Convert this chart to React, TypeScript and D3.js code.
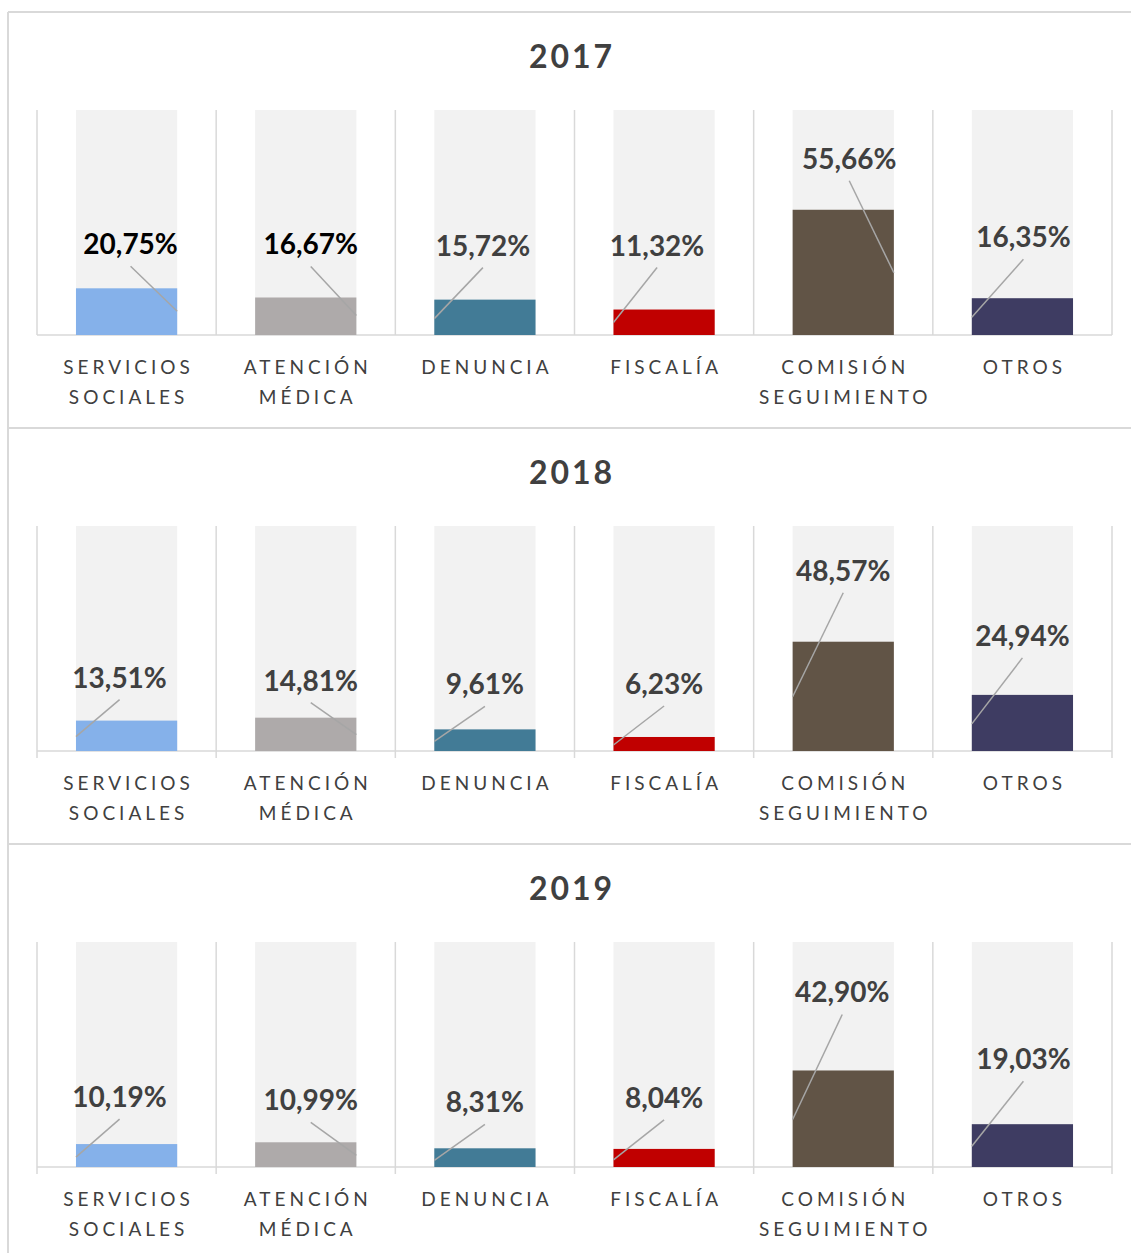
import * as d3 from "d3";

// categories (split on space for the two-line axis labels)
const categories = [
  "SERVICIOS SOCIALES",
  "ATENCIÓN MÉDICA",
  "DENUNCIA",
  "FISCALÍA",
  "COMISIÓN SEGUIMIENTO",
  "OTROS",
];
const years = ["2017", "2018", "2019"];
const values2017 = [20.75, 16.67, 15.72, 11.32, 55.66, 16.35];
const values2018 = [13.51, 14.81, 9.61, 6.23, 48.57, 24.94];
const values2019 = [10.19, 10.99, 8.31, 8.04, 42.9, 19.03];

const barColors = ["#85b1ea", "#aeaaaa", "#427b96", "#c00000", "#615446", "#3e3c62"];

// hand-placed data labels: [dx from bar centre, label baseline dy from bar top, leader side, leader end dy from bar top]
const labelPos2017: [number, number, string, number][] = [
  [4, -34, "R", 23], [5, -43, "R", 18], [-2, -44, "L", 19],
  [-7, -54, "L", 13], [6, -41, "R", 63], [1, -51, "L", 19],
];
const labelPos2018: [number, number, string, number][] = [
  [-7, -33, "L", 16], [5, -27, "R", 17], [0, -35, "L", 12],
  [0, -43, "L", 8], [0, -61, "L", 55], [0, -49, "L", 29],
];
const labelPos2019: [number, number, string, number][] = [
  [-7, -37, "L", 13], [5, -32, "R", 13], [0, -36, "L", 12],
  [0, -41, "L", 11], [-1, -68, "L", 49], [1, -55, "L", 22],
];
const labelColors2017 = ["#000", "#000", "#404040", "#404040", "#404040", "#404040"];

const W = 1131;
const H = 1253;
const panelH = 416;
const panelTop0 = 12;
const gridColor = "#d9d9d9";
const textColor = "#404040";
const font = "Lato, 'Open Sans', sans-serif";

const x = d3.scaleBand<string>().domain(categories).range([37, 1112]);
const barW = x.bandwidth() * 0.565;

const fmt = (v: number) => v.toFixed(2).replace(".", ",") + "%";

function Panel({ idx, year, values, labels, labelColors }: any) {
  const top = panelTop0 + idx * panelH;
  const y = d3.scaleLinear().domain([0, 100]).range([top + 323, top + 98]);
  const base = y(0);
  const tick = idx === 0 ? 0 : 7;
  const bounds = categories.map((c) => x(c)!).concat([x.range()[1]]);
  return (
    <g>
      <text
        x={572}
        y={top + 56}
        textAnchor="middle"
        fontFamily={font}
        fontWeight="bold"
        fontSize={32}
        letterSpacing={3}
        fill={textColor}
      >
        {year}
      </text>
      {categories.map((c) => (
        <rect
          key={"bg" + c}
          x={x(c)! + (x.bandwidth() - barW) / 2}
          y={y(100)}
          width={barW}
          height={base - y(100)}
          fill="#f2f2f2"
        />
      ))}
      {bounds.map((b, i) => (
        <line key={"g" + i} x1={b} x2={b} y1={y(100)} y2={base + tick} stroke={gridColor} strokeWidth={1.5} />
      ))}
      <line x1={x.range()[0]} x2={x.range()[1]} y1={base} y2={base} stroke={gridColor} strokeWidth={1.5} />
      {categories.map((c, i) => {
        const bx = x(c)! + (x.bandwidth() - barW) / 2;
        const by = y(values[i]);
        return (
          <rect key={"b" + c} x={bx} y={by} width={barW} height={base - by} fill={barColors[i]} />
        );
      })}
      {categories.map((c, i) => {
        const [dx, dy, side, endDy] = labels[i];
        const cx = x(c)! + x.bandwidth() / 2;
        const by = y(values[i]);
        const lx = cx + dx;
        const ly = by + dy;
        const ex = side === "L" ? cx - barW / 2 : cx + barW / 2;
        return (
          <g key={"l" + c}>
            <line x1={lx} y1={ly + 12} x2={ex} y2={by + endDy} stroke="#a6a6a6" strokeWidth={1.5} />
            <text
              x={lx}
              y={ly}
              textAnchor="middle"
              fontFamily={font}
              fontWeight="bold"
              fontSize={28}
              fill={labelColors ? labelColors[i] : textColor}
            >
              {fmt(values[i])}
            </text>
          </g>
        );
      })}
      {categories.map((c) => {
        const cx = x(c)! + x.bandwidth() / 2;
        return c.split(" ").map((w, j) => (
          <text
            key={"c" + c + j}
            x={cx + 2}
            y={top + 362 + j * 30}
            textAnchor="middle"
            fontFamily={font}
            fontSize={19}
            letterSpacing={4}
            fill={textColor}
          >
            {w}
          </text>
        ));
      })}
    </g>
  );
}

export default function App() {
  const allValues = [values2017, values2018, values2019];
  const allLabels = [labelPos2017, labelPos2018, labelPos2019];
  return (
    <svg width={W} height={H} style={{ position: "absolute", left: 0, top: 0, background: "#fff" }}>
      <rect x={0} y={0} width={W} height={H} fill="#fff" />
      {years.map((yr, i) => (
        <Panel
          key={yr}
          idx={i}
          year={yr}
          values={allValues[i]}
          labels={allLabels[i]}
          labelColors={i === 0 ? labelColors2017 : null}
        />
      ))}
      {/* panel frames */}
      <line x1={8} x2={8} y1={panelTop0} y2={H} stroke={gridColor} strokeWidth={2} />
      {years.map((yr, i) => (
        <line key={"f" + yr} x1={8} x2={W} y1={panelTop0 + i * panelH} y2={panelTop0 + i * panelH} stroke={gridColor} strokeWidth={2} />
      ))}
    </svg>
  );
}
